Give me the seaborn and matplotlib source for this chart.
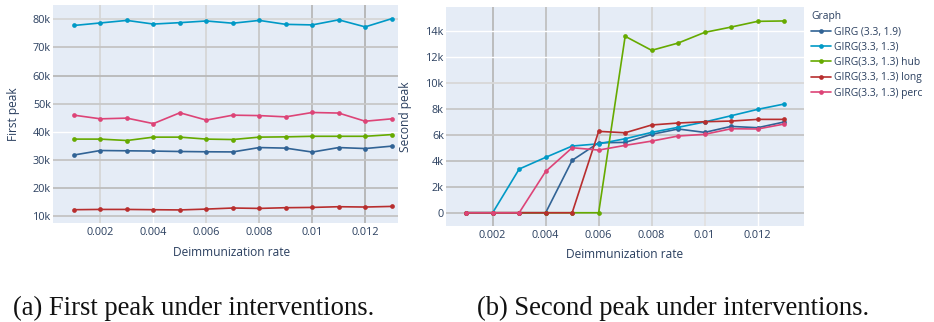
import matplotlib
matplotlib.use("Agg")
import matplotlib.pyplot as plt
import seaborn as sns
import pandas as pd

# Deimmunization rates (x axis of both panels)
rates = [0.001, 0.002, 0.003, 0.004, 0.005, 0.006, 0.007,
         0.008, 0.009, 0.010, 0.011, 0.012, 0.013]

graphs = ["GIRG (3.3, 1.9)", "GIRG(3.3, 1.3)", "GIRG(3.3, 1.3) hub",
          "GIRG(3.3, 1.3) long", "GIRG(3.3, 1.3) perc"]

# First peak (number of infected) per graph
first_girg_19 = [31800, 33400, 33300, 33200, 33050, 32950, 32900,
                 34450, 34250, 32850, 34450, 34100, 34950]
first_girg_13 = [77800, 78700, 79600, 78300, 78800, 79400, 78600,
                 79600, 78200, 78000, 79800, 77300, 80200]
first_hub = [37450, 37450, 36950, 38150, 38150, 37450, 37300,
             38150, 38250, 38450, 38450, 38450, 39050]
first_long = [12380, 12480, 12480, 12380, 12300, 12600, 12980,
              12840, 13090, 13190, 13440, 13330, 13550]
first_perc = [45950, 44650, 44900, 42950, 46800, 44200, 45950,
              45800, 45350, 46900, 46700, 43800, 44650]

# Second peak per graph
second_girg_19 = [0, 0, 0, 0, 4030, 5380, 5410, 6030, 6440, 6180, 6640, 6540, 6980]
second_girg_13 = [0, 0, 3360, 4260, 5130, 5300, 5690, 6180, 6570, 6980, 7460, 7950, 8360]
second_hub = [0, 0, 0, 0, 0, 0, 13570, 12490, 13050, 13870, 14280, 14720, 14750]
second_long = [0, 0, 0, 0, 0, 6260, 6150, 6750, 6900, 7000, 7050, 7180, 7180]
second_perc = [0, 0, 0, 3180, 5000, 4820, 5180, 5510, 5900, 6030, 6460, 6440, 6820]

x_ticks = [0.002, 0.004, 0.006, 0.008, 0.010, 0.012]
x_tick_labels = ["0.002", "0.004", "0.006", "0.008", "0.01", "0.012"]
first_y_ticks = [10000, 20000, 30000, 40000, 50000, 60000, 70000, 80000]
first_y_labels = ["10k", "20k", "30k", "40k", "50k", "60k", "70k", "80k"]
second_y_ticks = [0, 2000, 4000, 6000, 8000, 10000, 12000, 14000]
second_y_labels = ["0", "2k", "4k", "6k", "8k", "10k", "12k", "14k"]

colors = {
    "GIRG (3.3, 1.9)": "#316395",
    "GIRG(3.3, 1.3)": "#0099C6",
    "GIRG(3.3, 1.3) hub": "#66AA00",
    "GIRG(3.3, 1.3) long": "#B82E2E",
    "GIRG(3.3, 1.3) perc": "#DD4477",
}


def long_frame(series_list, value_name):
    rows = []
    for g, vals in zip(graphs, series_list):
        for r, v in zip(rates, vals):
            rows.append({"rate": r, value_name: v, "Graph": g})
    return pd.DataFrame(rows)


df_first = long_frame([first_girg_19, first_girg_13, first_hub, first_long, first_perc], "First peak")
df_second = long_frame([second_girg_19, second_girg_13, second_hub, second_long, second_perc], "Second peak")

sns.set_style("white")
plt.rcParams["font.family"] = ["Open Sans", "DejaVu Sans"]

TXT = "#2a3f5f"
BG = "#E5ECF6"

W, H = 934, 322
fig = plt.figure(figsize=(W / 100, H / 100), dpi=100)
fig.patch.set_facecolor("white")


def px_axes(x0, y0, x1, y1):
    return fig.add_axes([x0 / W, 1 - y1 / H, (x1 - x0) / W, (y1 - y0) / H])


ax1 = px_axes(53, 5, 398, 223)
ax2 = px_axes(446, 7.3, 804, 226)

# Gridline shades (some lines render greyer than the white default)
grid1_x = {0.002: "#d6d6d6", 0.004: "#ffffff", 0.006: "#d6d6d6",
           0.008: "#c8c8c8", 0.010: "#b8b8b8", 0.012: "#b4b4b4"}
grid1_y = {10000: "#c4c4c4", 20000: "#bdbdbd", 30000: "#c4c4c4", 40000: "#ffffff",
           50000: "#c8c8c8", 60000: "#b8b8b8", 70000: "#c4c4c4", 80000: "#d6d6d6"}
grid2_x = {0.002: "#b8b8b8", 0.004: "#c0c0c0", 0.006: "#c4c4c4",
           0.008: "#d4d4d4", 0.010: "#e2e2e2", 0.012: "#ffffff"}
grid2_y = {0: "#c0c0c0", 2000: "#c0c0c0", 4000: "#c0c0c0", 6000: "#c4c4c4",
           8000: "#c8c8c8", 10000: "#d8d8d8", 12000: "#ffffff", 14000: "#ffffff"}

panels = [
    (ax1, df_first, "First peak", (0.000208, 0.01324), (7660, 85070),
     first_y_ticks, first_y_labels, grid1_x, grid1_y),
    (ax2, df_second, "Second peak", (0.000238, 0.01375), (-1020, 15800),
     second_y_ticks, second_y_labels, grid2_x, grid2_y),
]

for ax, df, ycol, xl, yl, yt, ytl, gx, gy in panels:
    ax.set_facecolor(BG)
    for v, c in gx.items():
        ax.axvline(v, color=c, lw=1.3 if c != "#ffffff" else 1.0, zorder=0.5)
    for v, c in gy.items():
        ax.axhline(v, color=c, lw=1.3 if c != "#ffffff" else 1.0, zorder=0.5)
    sns.lineplot(data=df, x="rate", y=ycol, hue="Graph", hue_order=graphs,
                 palette=colors, marker="o", markersize=3.4, markeredgewidth=0,
                 linewidth=1.2, ax=ax, legend=True, zorder=3)
    ax.set_xlim(*xl)
    ax.set_ylim(*yl)
    ax.set_xticks(x_ticks)
    ax.set_xticklabels(x_tick_labels)
    ax.set_yticks(yt)
    ax.set_yticklabels(ytl)
    ax.tick_params(axis="both", length=0, labelsize=7.8, labelcolor=TXT)
    ax.tick_params(axis="y", pad=1.5)
    ax.tick_params(axis="x", pad=3)
    for s in ax.spines.values():
        s.set_visible(False)
    ax.set_xlabel("")
    ax.set_ylabel("")

handles, labels = ax1.get_legend_handles_labels()
ax1.get_legend().remove()
ax2.get_legend().remove()

# Axis titles
lab = dict(color=TXT, fontsize=8.6, ha="center", va="center")
fig.text(232 / W, 1 - 252 / H, "Deimmunization rate", **lab)
fig.text(625 / W, 1 - 255 / H, "Deimmunization rate", **lab)
fig.text(13 / W, 1 - 114 / H, "First peak", rotation=90, **lab)
fig.text(405 / W, 1 - 116.5 / H, "Second peak", rotation=90, **lab)

leg = fig.legend(handles, labels, title="Graph", loc="upper left",
                 bbox_to_anchor=(811 / W, 1 - 11 / H), frameon=False,
                 alignment="left", fontsize=7.4, title_fontsize=7.4,
                 handlelength=1.9, handletextpad=0.3, labelspacing=0.42,
                 borderpad=0, borderaxespad=0)
for t in leg.get_texts():
    t.set_color(TXT)
leg.get_title().set_color(TXT)

# Sub-figure captions
cap = dict(family=["Liberation Serif", "DejaVu Serif"], fontsize=19.2, color="#111111", va="baseline")
fig.text(13 / W, 1 - 315 / H, "(a) First peak under interventions.", ha="left", **cap)
fig.text(477 / W, 1 - 315 / H, "(b) Second peak under interventions.", ha="left", **cap)

fig.savefig("out.png", dpi=100, facecolor="white")
